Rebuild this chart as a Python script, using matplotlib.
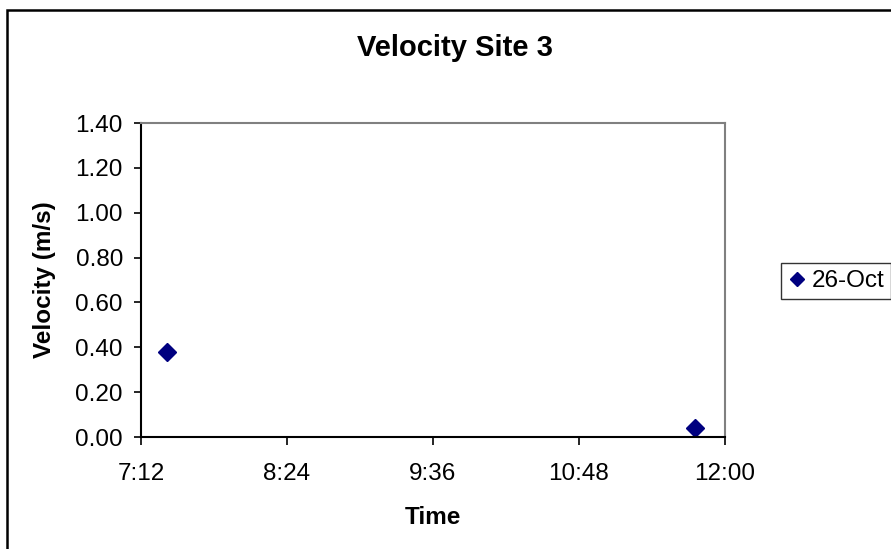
import datetime as dt
import matplotlib
matplotlib.use("Agg")
import matplotlib.pyplot as plt
from matplotlib.patches import Rectangle

plt.rcParams['font.family'] = ['Liberation Sans', 'DejaVu Sans']

# measurements on 26 Oct
day = dt.datetime(1900, 1, 1)
times = ["7:25", "11:45"]
velocity = [0.38, 0.04]
series_label = "26-Oct"

x_ticks = ["7:12", "8:24", "9:36", "10:48", "12:00"]
y_ticks = [0.0, 0.2, 0.4, 0.6, 0.8, 1.0, 1.2, 1.4]


def to_dt(s):
    h, m = s.split(":")
    return day.replace(hour=int(h), minute=int(m))


x = [to_dt(t) for t in times]
xt = [to_dt(t) for t in x_ticks]

fig = plt.figure(figsize=(8.91, 5.49), dpi=100)
ax = fig.add_axes([141/891, 1-437/549, (725-141)/891, (437-123)/549])

ax.plot(x, velocity, linestyle='none', marker='D', markersize=9,
        color='#000080', label=series_label)

ax.set_xlim(xt[0], xt[-1])
ax.set_ylim(0, 1.4)
ax.set_xticks(xt)
ax.set_xticklabels(x_ticks)
ax.set_yticks(y_ticks)
ax.set_yticklabels(["{:.2f}".format(v) for v in y_ticks])
ax.tick_params(axis='both', labelsize=17.5, colors='black', width=1.2)
ax.tick_params(axis='y', length=5, pad=8)
ax.tick_params(axis='x', length=6, pad=13)

for side in ['top', 'right']:
    ax.spines[side].set_color('#808080')
    ax.spines[side].set_linewidth(1.5)
for side in ['left', 'bottom']:
    ax.spines[side].set_color('black')
    ax.spines[side].set_linewidth(1.5)

ax.set_xlabel("Time", fontsize=17.5, fontweight='bold', labelpad=15)
ax.set_ylabel("Velocity (m/s)", fontsize=17.5, fontweight='bold', labelpad=14)
fig.text(455/891, 1-48/549, "Velocity Site 3", fontsize=21,
         fontweight='bold', ha='center', va='center')

leg = fig.legend(loc='center left', bbox_to_anchor=(781/891, 1-281/549),
                 fontsize=17.5, frameon=True, fancybox=False, handletextpad=0.25,
                 handlelength=0.7, borderpad=0.3, borderaxespad=0,
                 markerscale=0.8)
leg.get_frame().set_edgecolor('black')
leg.get_frame().set_linewidth(1.0)

# chart border
fig.add_artist(Rectangle((7/891, -0.05), 1.1, 1-10/549+0.05,
                         transform=fig.transFigure, fill=False,
                         edgecolor='black', linewidth=1.8))

fig.savefig("out.png", dpi=100)
